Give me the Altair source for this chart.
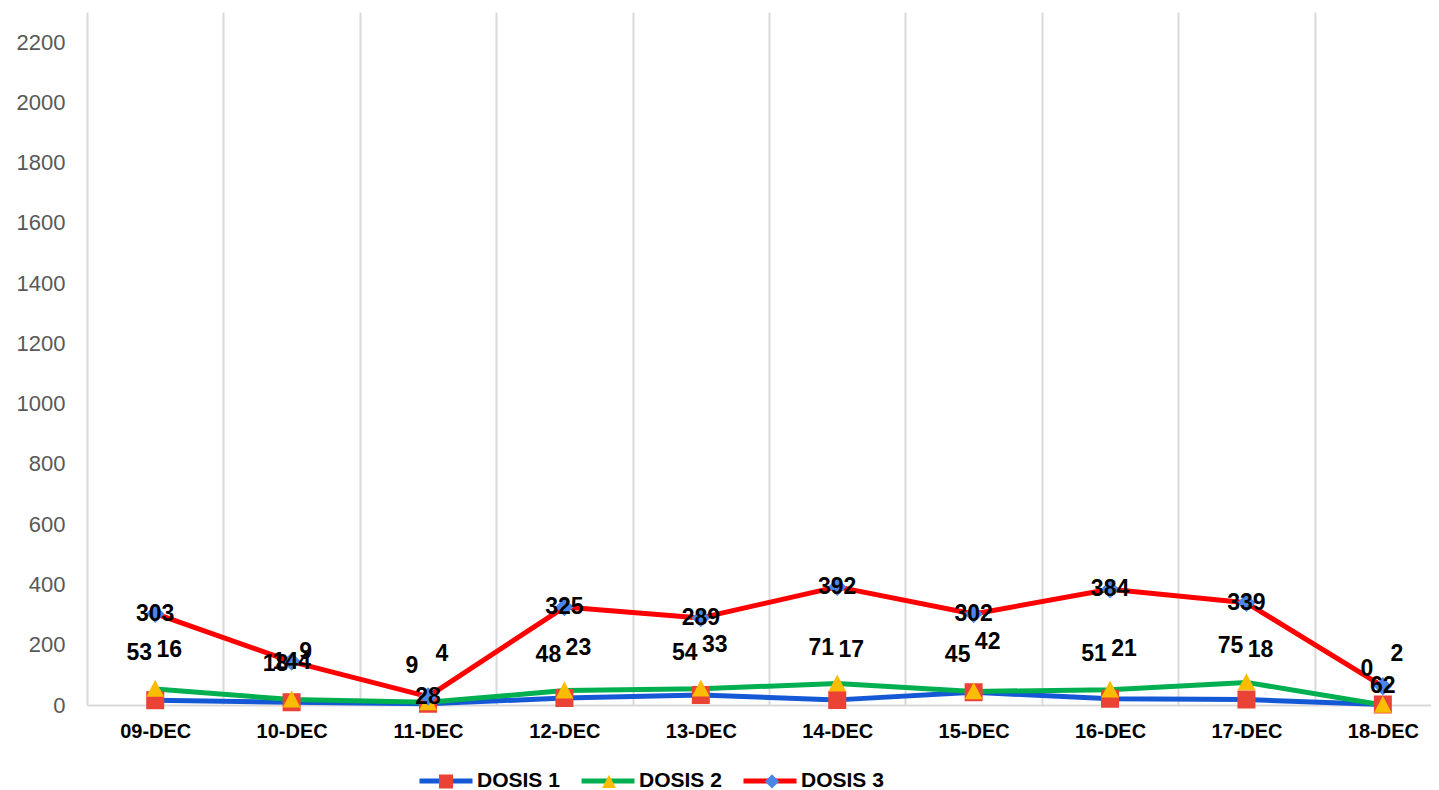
import altair as alt
import pandas as pd

categories = ["09-DEC", "10-DEC", "11-DEC", "12-DEC", "13-DEC",
              "14-DEC", "15-DEC", "16-DEC", "17-DEC", "18-DEC"]
series_names = ["DOSIS 1", "DOSIS 2", "DOSIS 3"]
dosis1 = [16, 9, 4, 23, 33, 17, 42, 21, 18, 2]
dosis2 = [53, 18, 9, 48, 54, 71, 45, 51, 75, 0]
dosis3 = [303, 144, 28, 325, 289, 392, 302, 384, 339, 62]
y_ticks = list(range(0, 2201, 200))

rows = []
for name, vals in zip(series_names, [dosis1, dosis2, dosis3]):
    for i, (c, v) in enumerate(zip(categories, vals)):
        rows.append({"idx": i, "fecha": c, "serie": name, "serie_m": name, "valor": v})
df = pd.DataFrame(rows)

line_colors = ["#1558D6", "#00B050", "#FF0000"]
marker_colors = ["#EA4335", "#FBBC04", "#4A86E8"]
# marker shapes; the zero-area segment only widens the legend symbol bounds
marker_paths = [
    "M-1,0H1M-0.264,-0.264H0.264V0.264H-0.264Z",
    "M-1,0H1M0,-0.27L0.26,0.23L-0.26,0.23Z",
    "M-1,0H1M0,-0.27L0.27,0L0,0.27L-0.27,0Z",
]

FONT = "Liberation Sans"
label_expr = "[" + ",".join(f"'{c}'" for c in categories) + "][datum.value]"

xscale = alt.Scale(domain=[-0.5, 9.353], nice=False, zero=False)
yscale = alt.Scale(domain=[0, 2300], nice=False)

y_enc = alt.Y("valor:Q", scale=yscale,
              axis=alt.Axis(values=y_ticks, format="d", grid=False, ticks=False,
                            domain=False, labelFontSize=22, labelColor="#595959",
                            labelFont=FONT, labelPadding=22, title=None))

x_bottom = alt.X("idx:Q", scale=xscale,
                 axis=alt.Axis(values=list(range(len(categories))), labelExpr=label_expr,
                               grid=False, ticks=False, domain=True,
                               domainColor="#D9D9D9", domainWidth=2,
                               labelFont=FONT, labelFontSize=20, labelFontWeight="bold",
                               labelColor="#000000", labelPadding=16, title=None,
                               labelFlush=False, labelOverlap=False))
x_grid = alt.X("idx:Q", scale=xscale,
               axis=alt.Axis(orient="top", values=[i - 0.5 for i in range(len(categories))],
                             grid=True, gridColor="#D9D9D9", gridWidth=2,
                             labels=False, ticks=False, domain=False, title=None))
x_none = alt.X("idx:Q", scale=xscale, axis=None)

legend_common = dict(title=None, orient="none", legendX=330, legendY=740,
                     direction="horizontal", symbolSize=2809, symbolStrokeWidth=5,
                     labelFont=FONT, labelFontSize=21, labelFontWeight="bold",
                     labelColor="#000000", labelOffset=2, padding=0)

line_leg = alt.Legend(symbolType="stroke", zindex=1, columnPadding=11, **legend_common)
marker_leg = alt.Legend(symbolStrokeColor="transparent", labelExpr="''", zindex=2,
                        columnPadding=89, **legend_common)

base = alt.Chart(df)

lines = base.mark_line(strokeJoin="round", strokeCap="round").encode(
    x=x_bottom,
    y=y_enc,
    stroke=alt.Stroke("serie:N", scale=alt.Scale(domain=series_names, range=line_colors),
                      legend=line_leg),
    strokeWidth=alt.StrokeWidth("serie:N",
                                scale=alt.Scale(domain=series_names, range=[5, 5, 6]),
                                legend=None),
)

points = base.mark_point(filled=True, opacity=1, size=4650).encode(
    x=x_grid,
    y=y_enc,
    fill=alt.Fill("serie_m:N", scale=alt.Scale(range=marker_colors), legend=marker_leg),
    shape=alt.Shape("serie_m:N", scale=alt.Scale(range=marker_paths), legend=marker_leg),
)

label_style = dict(font=FONT, fontSize=23, fontWeight="bold", color="#000000",
                   baseline="middle", align="center")
offsets = {"DOSIS 1": (14, -50), "DOSIS 2": (-16, -36), "DOSIS 3": (0, 0)}
text_layers = []
for name in series_names:
    dx, dy = offsets[name]
    text_layers.append(
        base.transform_filter(alt.datum.serie == name)
        .mark_text(dx=dx, dy=dy, **label_style)
        .encode(x=x_none, y=y_enc, text=alt.Text("valor:Q"))
    )

chart = alt.layer(lines, points, *text_layers).resolve_axis(x="independent").properties(
    width=1344,
    height=693,
    autosize=alt.AutoSizeParams(type="none"),
    padding={"left": 79, "top": 4, "right": 0, "bottom": 85},
).configure_view(stroke=None)

chart.save("out.html", embed_options={"renderer": "svg", "actions": False})
